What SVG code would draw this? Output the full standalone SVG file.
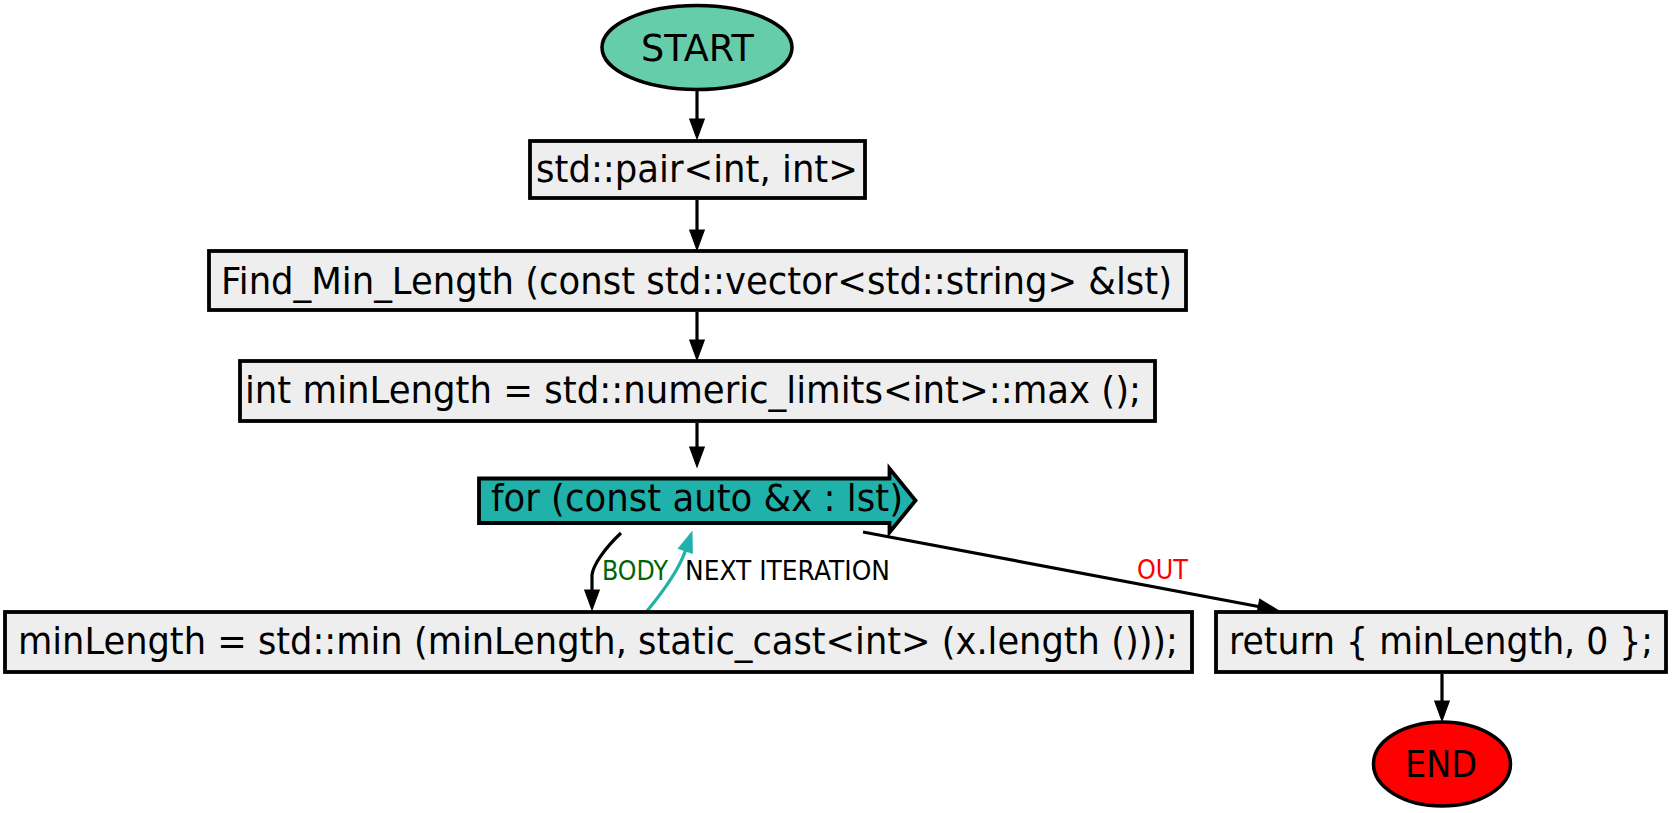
<svg xmlns="http://www.w3.org/2000/svg" width="1672" height="813" viewBox="0 0 1672 813">
<defs>
<style>
.box{fill:#eeeeee;stroke:#000;stroke-width:3.8}
.t{font-family:"DejaVu Sans","Liberation Sans",sans-serif;font-size:38px;fill:#000}
.lbl{font-family:"DejaVu Sans","Liberation Sans",sans-serif;font-size:27px}
.edge{fill:none;stroke:#000;stroke-width:3.2}
.edge2{fill:none;stroke:#20b2aa;stroke-width:3.2}
</style>
<marker id="ah" markerUnits="userSpaceOnUse" markerWidth="22" markerHeight="18" refX="0" refY="0" viewBox="-1 -8 21 16" orient="auto" overflow="visible">
<path d="M0,-7 L19,0 L0,7 Z" fill="#000" stroke="#000" stroke-width="1"/>
</marker>
<marker id="ah2" markerUnits="userSpaceOnUse" markerWidth="22" markerHeight="18" refX="0" refY="0" viewBox="-1 -8 21 16" orient="auto" overflow="visible">
<path d="M0,-7 L19,0 L0,7 Z" fill="#20b2aa" stroke="#20b2aa" stroke-width="1"/>
</marker>
</defs>
<rect width="1672" height="813" fill="#fff"/>
<g id="connectors">
<path class="edge" d="M697,91 L697,119" marker-end="url(#ah)"/>
<path class="edge" d="M697,200 L697,230" marker-end="url(#ah)"/>
<path class="edge" d="M697,312 L697,340" marker-end="url(#ah)"/>
<path class="edge" d="M697,423 L697,447" marker-end="url(#ah)"/>
<path class="edge" d="M621,533 C605,548 593,565 592,575 L592,590" marker-end="url(#ah)"/>
<path class="edge2" d="M647,611 C662,593 678,572 685.4,550.8" marker-end="url(#ah2)"/>
<path class="edge" d="M863,532 L1258.3,606.5" marker-end="url(#ah)"/>
<path class="edge" d="M1442,674 L1442,701" marker-end="url(#ah)"/>
<text class="lbl" x="602" y="580" textLength="66" lengthAdjust="spacingAndGlyphs" fill="#006400">BODY</text>
<text class="lbl" x="685" y="580" textLength="205" lengthAdjust="spacingAndGlyphs" fill="#000">NEXT ITERATION</text>
<text class="lbl" x="1137" y="579" textLength="51" lengthAdjust="spacingAndGlyphs" fill="#ff0000">OUT</text>
</g>
<g id="start">
<ellipse cx="697" cy="47.5" rx="95" ry="42" fill="#66cdaa" stroke="#000" stroke-width="3.5"/>
<text class="t" x="641" y="61" font-size="39" textLength="113" lengthAdjust="spacingAndGlyphs">START</text>
</g>
<g id="pair">
<rect class="box" x="530" y="141" width="335" height="57"/>
<text class="t" x="536" y="182" textLength="322" lengthAdjust="spacingAndGlyphs">std::pair&lt;int, int&gt;</text>
</g>
<g id="func">
<rect class="box" x="209" y="251" width="977" height="59"/>
<text class="t" x="221" y="294" textLength="951" lengthAdjust="spacingAndGlyphs">Find_Min_Length (const std::vector&lt;std::string&gt; &amp;lst)</text>
</g>
<g id="init">
<rect class="box" x="240" y="361" width="915" height="60"/>
<text class="t" x="245" y="403" textLength="896" lengthAdjust="spacingAndGlyphs">int minLength = std::numeric_limits&lt;int&gt;::max ();</text>
</g>
<g id="loop">
<path d="M479,478.5 L889.5,478.5 L889.5,468.5 L915.5,500.5 L889.5,532.5 L889.5,523 L479,523 Z" fill="#20b2aa" stroke="#000" stroke-width="3.8" stroke-linejoin="miter"/>
<text class="t" x="491" y="511" textLength="412" lengthAdjust="spacingAndGlyphs">for (const auto &amp;x : lst)</text>
</g>
<g id="body">
<rect class="box" x="5" y="612" width="1187" height="60"/>
<text class="t" x="18" y="654" textLength="1160" lengthAdjust="spacingAndGlyphs">minLength = std::min (minLength, static_cast&lt;int&gt; (x.length ()));</text>
</g>
<g id="ret">
<rect class="box" x="1216" y="612" width="450" height="60"/>
<text class="t" x="1229" y="654" font-size="37" textLength="424" lengthAdjust="spacingAndGlyphs">return { minLength, 0 };</text>
</g>
<g id="end">
<ellipse cx="1442" cy="764" rx="68.5" ry="42" fill="#ff0000" stroke="#000" stroke-width="3.5"/>
<text class="t" x="1405" y="777" font-size="39" textLength="72" lengthAdjust="spacingAndGlyphs">END</text>
</g>
</svg>
